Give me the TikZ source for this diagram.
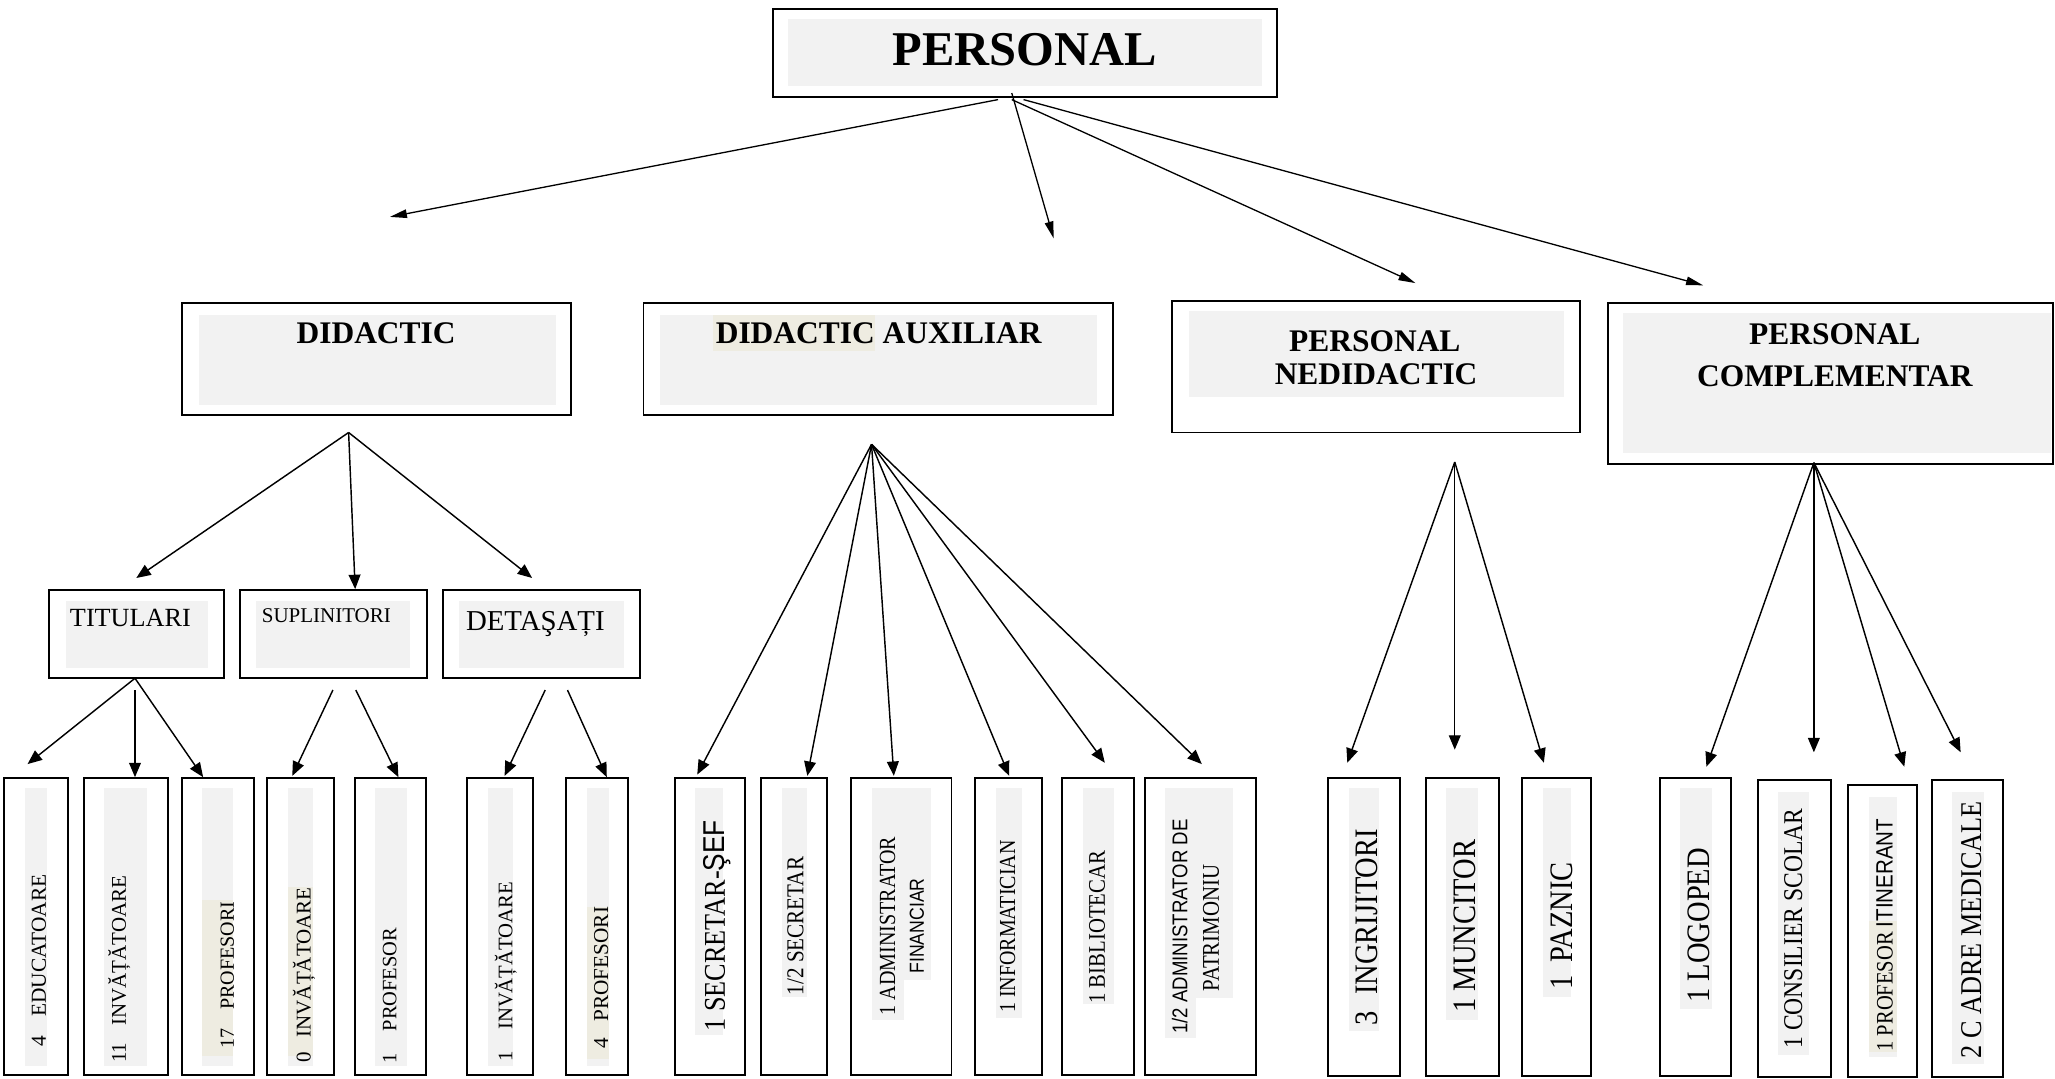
\documentclass[tikz,border=0pt]{standalone}
\usepackage{fontspec}
\setmainfont{Liberation Serif}
\newfontfamily\sansf{Liberation Sans}
\newfontfamily\condf[FakeStretch=0.87]{Liberation Serif}
\newfontfamily\condsf[FakeStretch=0.87]{Liberation Sans}
\usetikzlibrary{arrows.meta,fit}
\definecolor{gry}{HTML}{F2F2F2}
\definecolor{bge}{HTML}{EEECE1}
\newcommand\myfs[1]{\fontsize{#1}{#1}\selectfont}
\begin{document}
\begin{tikzpicture}[x=1pt,y=-1pt,
  obox/.style={draw=black, line width=1.5pt, inner sep=0pt},
  arr/.style={line width=1.1pt, -{Triangle[length=11pt,width=9pt]}},
  tarr/.style={line width=1pt, -{Triangle[length=13pt,width=6.5pt]}},
  lab/.style={anchor=base, inner sep=0pt},
  vlab/.style={rotate=90, anchor=base, inner sep=0pt}]
\useasboundingbox (0,0) rectangle (1568,823);

% ---------- level 0
\fill[gry] (601,14.8) rectangle (962.6,65.6);
\node[lab, font=\bfseries\myfs{37}] (tPers) at (782,49.6) {PERSONAL};
\node[obox, fit={(590,6.5) (974.6,74)}] (bPers) {};

% ---------- level 1
\fill[gry] (152,240) rectangle (424,309);
\node[lab, font=\bfseries\myfs{24}] (tDid) at (287,262) {DIDACTIC};
\node[obox, fit={(139,231) (436,316.6)}] (bDid) {};

\fill[gry] (503.5,240) rectangle (837,309);
\fill[bge] (544,240) rectangle (668,268);
\node[lab, font=\bfseries\myfs{24}] (tAux) at (670.5,262) {DIDACTIC AUXILIAR};
\node[obox, fit={(491,231) (849,316.6)}] (bAux) {};

\fill[gry] (907,237.3) rectangle (1193.5,302.7);
\node[lab, font=\bfseries\myfs{24}] (tNed1) at (1049,268.3) {PERSONAL};
\node[lab, font=\bfseries\myfs{24}] (tNed2) at (1050,293) {NEDIDACTIC};
\node[obox, fit={(894,229.4) (1205.5,330)}] (bNed) {};

\fill[gry] (1238.5,239) rectangle (1565,346);
\node[lab, font=\bfseries\myfs{24}] (tCom1) at (1400,263) {PERSONAL};
\node[lab, font=\bfseries\myfs{24}] (tCom2) at (1400,294.6) {COMPLEMENTAR};
\node[obox, fit={(1226.6,231) (1566.5,354)}] (bCom) {};

% ---------- level 2
\fill[gry] (50,458.6) rectangle (159,509.7);
\node[lab, font=\myfs{20}] (tTit) at (99.5,478) {TITULARI};
\node[obox, fit={(37.4,450) (171,517.5)}] (bTit) {};
\fill[gry] (195,458.6) rectangle (313,509.7);
\node[lab, font=\myfs{16}] (tSup) at (249,475) {SUPLINITORI};
\node[obox, fit={(183,450) (326,517.5)}] (bSup) {};
\fill[gry] (350,458.6) rectangle (476,509.7);
\node[lab, font=\myfs{22}] (tDet) at (408.5,480.7) {DETAŞAȚI};
\node[obox, fit={(338,450) (488,517.5)}] (bDet) {};

% ---------- bottom: grey and beige strips
\fill[gry] (19,601) rectangle (36,813);
\fill[gry] (79,601) rectangle (112.5,813);
\fill[gry] (154,601) rectangle (178,813);
\fill[bge] (154,687) rectangle (178,806);
\fill[gry] (219.6,601) rectangle (239,813);
\fill[bge] (219.6,677) rectangle (239,806);
\fill[gry] (286,601) rectangle (310.6,813);
\fill[gry] (372,601) rectangle (391.5,813);
\fill[gry] (448,601) rectangle (464.5,813);
\fill[bge] (448,692) rectangle (464.5,808);
\fill[gry] (530,601) rectangle (552,790);
\fill[gry] (597,601) rectangle (616,761);
\fill[gry] (665,601) rectangle (689.6,778);
\fill[gry] (689.6,601) rectangle (710.7,748);
\fill[gry] (760,601) rectangle (780,777);
\fill[gry] (826,601) rectangle (850,766);
\fill[gry] (889,601) rectangle (912.6,791.7);
\fill[gry] (912.6,601) rectangle (941,761.6);
\fill[gry] (1029,601) rectangle (1052,787);
\fill[gry] (1103,601) rectangle (1128,778);
\fill[gry] (1177,601) rectangle (1199,761);
\fill[gry] (1282,601) rectangle (1306,770);
\fill[gry] (1357,604) rectangle (1380,805);
\fill[gry] (1426,608) rectangle (1447.5,806.5);
\fill[bge] (1426,703) rectangle (1447.5,803);
\fill[gry] (1489.5,604) rectangle (1514,812);

% ---------- bottom: texts
\node[vlab, font=\myfs{16.3}] (t1) at (35,733) {4\hspace{15pt}EDUCATOARE};
\node[vlab, font=\myfs{16}] (t2) at (96,739.5) {11\hspace{13pt}INVĂȚĂTOARE};
\node[vlab, font=\myfs{15.3}] (t3) at (178.5,744) {17\hspace{14pt}PROFESORI};
\node[vlab, font=\myfs{16}] (t4) at (237,744) {0\hspace{11.4pt}INVĂȚĂTOARE};
\node[vlab, font=\myfs{15.6}] (t5) at (302.5,759.5) {1\hspace{16.5pt}PROFESOR};
\node[vlab, font=\myfs{15.8}] (t6) at (391,741.5) {1\hspace{16.5pt}INVĂȚĂTOARE};
\node[vlab, font=\myfs{16.2}] (t7) at (464,746) {4\hspace{12.7pt}PROFESORI};
\node[vlab, font=\condf\myfs{23}] (t8) at (553,706.5) {1 SECRETAR-{\condsf ŞEF}};
\node[vlab, font=\condf\myfs{18.5}] (t9) at (613,706.5) {1/2 SECRETAR};
\node[vlab, font=\condf\myfs{17.6}] (t10a) at (683,706.5) {1 ADMINISTRATOR};
\node[vlab, font=\condsf\myfs{15.5}] (t10b) at (705,706.5) {FINANCIAR};
\node[vlab, font=\condf\myfs{17.5}] (t11) at (774.5,707) {1 INFORMATICIAN};
\node[vlab, font=\condf\myfs{18.2}] (t12) at (843,707.5) {1 BIBLIOTECAR};
\node[vlab, font=\condsf\myfs{16.3}] (t13a) at (906,707) {1/2 ADMINISTRATOR DE};
\node[vlab, font=\condf\myfs{18.3}] (t13b) at (930,708) {PATRIMONIU};
\node[vlab, font=\condf\myfs{25}] (t14) at (1051,707.5) {3\hspace{12.7pt}INGRIJITORI};
\node[vlab, font=\condf\myfs{25}] (t15) at (1126,706.5) {1 MUNCITOR};
\node[vlab, font=\condf\myfs{25}] (t16) at (1199.5,706.5) {1\hspace{10pt}PAZNIC};
\node[vlab, font=\condf\myfs{25}] (t17) at (1304,706) {1 LOGOPED};
\node[vlab, font=\condf\myfs{20.7}] (t18) at (1375,708.5) {1 CONSILIER SCOLAR};
\node[vlab, font=\condf\myfs{18}] (t19) at (1444,713.5) {1 PROFESOR {\condsf ITINERANT}};
\node[vlab, font=\condf\myfs{23}] (t20) at (1511.6,709.5) {2 C ADRE MEDICALE};

% ---------- bottom: boxes
\node[obox, fit={(3,593.5) (52,820.5)}] (b1) {};
\node[obox, fit={(64,593.5) (128,820.5)}] (b2) {};
\node[obox, fit={(139,593.5) (193.5,820.5)}] (b3) {};
\node[obox, fit={(204,593.5) (255,820.5)}] (b4) {};
\node[obox, fit={(271,593.5) (325,820.5)}] (b5) {};
\node[obox, fit={(356,593.5) (406.5,820.5)}] (b6) {};
\node[obox, fit={(432,593.5) (479.5,820.5)}] (b7) {};
\node[obox, fit={(515,593.5) (568.5,820.5)}] (b8) {};
\node[obox, fit={(581,593.5) (631,820.5)}] (b9) {};
\node[obox, fit={(649,593.5) (726,820.5)}] (b10) {};
\node[obox, fit={(744,593.5) (795,820.5)}] (b11) {};
\node[obox, fit={(810.5,593.5) (865.5,820.5)}] (b12) {};
\node[obox, fit={(874,593.5) (958,820.5)}] (b13) {};
\node[obox, fit={(1013,593.5) (1068,821)}] (b14) {};
\node[obox, fit={(1088,593.5) (1144,821)}] (b15) {};
\node[obox, fit={(1161,593.5) (1214,821)}] (b16) {};
\node[obox, fit={(1266.5,593.5) (1321,821)}] (b17) {};
\node[obox, fit={(1341,595) (1397,822)}] (b18) {};
\node[obox, fit={(1410,599) (1463,822)}] (b19) {};
\node[obox, fit={(1474,595) (1528.5,822)}] (b20) {};

% ---------- connector coordinates
\coordinate (p1) at (761.5,76);
\coordinate (p2) at (772,71);
\coordinate (p3) at (772,76);
\coordinate (p4) at (781,76);
\coordinate (q1) at (297.5,165.5);
\coordinate (q2) at (804,182);
\coordinate (q3) at (1080,216);
\coordinate (q4) at (1299.5,217.7);

\coordinate (oDid) at (266,330);
\coordinate (eTit) at (104,441);
\coordinate (eSup) at (271,449.5);
\coordinate (eDet) at (406,441);

\coordinate (oAux) at (665,339);
\coordinate (e8) at (532,591);
\coordinate (e9) at (616,592);
\coordinate (e10) at (682,592);
\coordinate (e11) at (770,592);
\coordinate (e12) at (843,582);
\coordinate (e13) at (917,583);

\coordinate (oNed) at (1110,352.5);
\coordinate (e14) at (1028,582);
\coordinate (e15) at (1110,572);
\coordinate (e16) at (1178,582);

\coordinate (oCom) at (1384,353);
\coordinate (e17) at (1302,585);
\coordinate (e18) at (1384,574);
\coordinate (e19) at (1453,585);
\coordinate (e20) at (1496,574);

\coordinate (oTitA) at (103,517.5);
\coordinate (oTitB) at (103,526.5);
\coordinate (e1) at (21,583);
\coordinate (e2) at (103,593);
\coordinate (e3) at (155,593);
\coordinate (oSupA) at (254,526.5);
\coordinate (oSupB) at (271.5,526.5);
\coordinate (e4) at (223,592);
\coordinate (e5) at (304,593);
\coordinate (oDetA) at (416,526.5);
\coordinate (oDetB) at (433,526.5);
\coordinate (e6) at (385,592);
\coordinate (e7) at (463,593);

% ---------- connectors
\draw[tarr] (p1) -- (q1);
\draw[tarr] (p2) -- (q2);
\draw[tarr] (p3) -- (q3);
\draw[tarr] (p4) -- (q4);

\draw[arr] (oDid) -- (eTit);
\draw[arr] (oDid) -- (eSup);
\draw[arr] (oDid) -- (eDet);

\foreach \e in {e8,e9,e10,e11,e12,e13} \draw[arr] (oAux) -- (\e);
\foreach \e in {e14,e15,e16} \draw[arr] (oNed) -- (\e);
\foreach \e in {e17,e18,e19,e20} \draw[arr] (oCom) -- (\e);

\draw[arr] (oTitA) -- (e1);
\draw[arr] (oTitB) -- (e2);
\draw[arr] (oTitA) -- (e3);
\draw[arr] (oSupA) -- (e4);
\draw[arr] (oSupB) -- (e5);
\draw[arr] (oDetA) -- (e6);
\draw[arr] (oDetB) -- (e7);
\end{tikzpicture}
\end{document}
